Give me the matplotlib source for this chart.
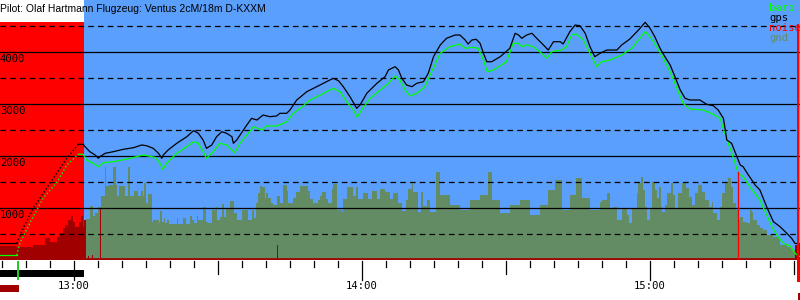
import numpy as np
import matplotlib
matplotlib.use("Agg")
import matplotlib.pyplot as plt
from matplotlib.patches import Rectangle

# --- data: minutes after 13:00, heights in m ---
gps_min = [-15.4, -11.9, -10.6, -8.5, -5.0, -1.5, 0.9, 1.9, 2.3, 3.3,
           4.4, 5.1, 5.4, 6.5, 8.2, 10.3, 12.4, 14.1, 15.1, 16.5,
           17.6, 18.3, 18.6, 19.6, 21.4, 23.5, 24.9, 25.9, 26.9, 27.6,
           28.7, 29.7, 30.8, 31.8, 32.9, 33.2, 33.9, 35.3, 36.0, 37.0,
           38.1, 39.4, 40.8, 42.2, 42.9, 44.3, 45.0, 46.4, 47.1, 48.5,
           49.9, 51.3, 52.6, 54.0, 55.1, 56.1, 57.5, 58.9, 59.6, 61.0,
           63.1, 64.8, 65.5, 66.9, 67.6, 68.3, 69.3, 70.4, 71.4, 72.8,
           73.8, 74.9, 76.3, 77.6, 79.4, 80.4, 81.5, 82.1, 82.9, 83.8,
           84.6, 85.3, 86.0, 87.0, 88.8, 90.8, 91.9, 92.6, 93.3, 94.3,
           95.4, 96.4, 97.8, 98.8, 99.9, 101.3, 101.9, 103.3, 104.4, 105.4,
           106.5, 107.5, 108.5, 109.6, 111.0, 113.1, 114.1, 115.8, 117.6, 119.0,
           120.0, 121.0, 122.1, 123.1, 124.2, 125.2, 126.3, 127.3, 128.3, 130.4,
           131.8, 133.2, 134.2, 135.3, 136.0, 137.0, 138.1, 138.8, 139.4, 140.5,
           141.9, 142.9, 144.3, 145.7, 147.1, 148.5, 149.5, 150.2, 151.25]
gps_alt = [321, 321, 610, 994, 1475, 1956, 2225, 2225, 2179, 2083,
           2019, 1956, 1987, 2052, 2083, 2129, 2160, 2212, 2198, 2148,
           2052, 1956, 2019, 2115, 2244, 2371, 2487, 2437, 2308, 2148,
           2212, 2371, 2467, 2437, 2371, 2244, 2308, 2500, 2596, 2725,
           2692, 2788, 2756, 2769, 2821, 2821, 2885, 3077, 3129, 3237,
           3302, 3365, 3429, 3494, 3448, 3333, 3140, 2917, 2981, 3206,
           3398, 3525, 3654, 3717, 3654, 3494, 3365, 3333, 3398, 3429,
           3590, 3910, 4135, 4263, 4327, 4327, 4231, 4154, 4231, 4244,
           4167, 3975, 3813, 3813, 3910, 4071, 4360, 4327, 4263, 4327,
           4360, 4263, 4135, 4038, 4198, 4198, 4154, 4390, 4519, 4506,
           4360, 4102, 3910, 3975, 4038, 4038, 4135, 4250, 4423, 4571,
           4456, 4294, 4071, 3910, 3750, 3525, 3269, 3110, 3077, 3077,
           2994, 2967, 2885, 2725, 2308, 2244, 1987, 1827, 1794, 1635,
           1442, 1346, 1025, 737, 640, 513, 417, 321, 308]

baro_min = [-15.4, -11.9, -11.3, -8.5, -7.5, -6.4, -3.5, -1.5, 0.9, 1.9,
            2.6, 4.0, 5.1, 6.1, 8.2, 11.7, 14.4, 15.5, 16.9, 17.9,
            18.5, 19.3, 21.4, 23.5, 24.9, 25.9, 26.9, 27.6, 29.0, 30.4,
            31.8, 32.9, 33.5, 34.6, 36.0, 37.4, 39.1, 40.1, 42.2, 43.3,
            44.3, 45.7, 47.1, 49.2, 51.3, 54.0, 55.4, 56.8, 58.2, 59.0,
            59.9, 61.7, 63.8, 65.5, 66.9, 67.9, 69.0, 70.0, 71.4, 73.1,
            74.5, 76.3, 78.3, 80.4, 81.5, 82.9, 84.2, 85.3, 86.1, 87.4,
            90.1, 91.5, 92.6, 93.3, 94.3, 95.7, 97.4, 98.5, 99.5, 101.6,
            102.6, 103.7, 104.7, 106.1, 107.5, 108.9, 109.9, 111.7, 114.1, 116.2,
            117.9, 119.0, 120.0, 121.4, 122.4, 123.5, 124.5, 125.9, 126.9, 128.3,
            131.1, 133.2, 134.6, 136.3, 137.4, 138.4, 139.4, 140.8, 142.9, 144.3,
            145.4, 146.4, 147.8, 149.2, 150.2, 151.25]
baro_alt = [96, 96, 321, 833, 1000, 1192, 1500, 1827, 2033, 2033,
            1923, 1860, 1794, 1871, 1890, 1956, 2019, 2000, 1975, 1860,
            1744, 1860, 2052, 2179, 2275, 2244, 2083, 1956, 2083, 2244,
            2212, 2115, 2063, 2244, 2404, 2563, 2500, 2577, 2577, 2615,
            2660, 2821, 2917, 3077, 3173, 3302, 3237, 3044, 2885, 2744,
            2885, 3110, 3269, 3398, 3538, 3462, 3269, 3154, 3206, 3333,
            3621, 3975, 4102, 4154, 4071, 4090, 4071, 3846, 3621, 3654,
            3813, 4167, 4167, 4102, 4135, 4102, 3975, 3879, 4006, 4038,
            4102, 4327, 4346, 4231, 3975, 3717, 3813, 3846, 3942, 4071,
            4263, 4390, 4294, 4102, 3942, 3750, 3558, 3237, 3013, 2904,
            2885, 2802, 2725, 2244, 1956, 1667, 1602, 1410, 1154, 865,
            640, 481, 321, 269, 129, 63]

gnd_min = [2.5, 3.3, 3.9, 4.4, 5.1, 5.6, 6.5, 6.7, 7.3, 8.2,
           8.7, 9.0, 9.4, 10.6, 11.3, 11.7, 12.4, 13.3, 14.0, 14.4,
           14.6, 15.1, 15.5, 16.2, 16.5, 17.7, 17.9, 18.3, 18.75, 19.0,
           19.4, 19.85, 21.4, 21.7, 22.8, 23.3, 24.2, 24.5, 25.0, 25.6,
           25.9, 26.9, 27.6, 28.0, 28.7, 29.6, 29.85, 30.4, 30.8, 31.25,
           31.7, 32.6, 33.3, 33.9, 34.9, 36.3, 37.0, 37.5, 37.9, 38.3,
           38.75, 39.1, 39.8, 40.1, 40.5, 41.0, 41.5, 42.2, 42.9, 43.5,
           44.3, 44.65, 45.7, 46.25, 47.1, 48.8, 49.2, 49.85, 50.9, 51.25,
           51.6, 52.6, 53.0, 53.7, 54.0, 54.85, 55.8, 56.1, 56.8, 57.5,
           58.2, 58.75, 59.2, 60.3, 61.3, 62.0, 63.1, 63.75, 64.8, 65.8,
           66.5, 67.6, 68.25, 69.2, 69.65, 70.35, 70.7, 71.7, 72.2, 72.8,
           73.5, 74.2, 75.4, 76.25, 78.3, 80.4, 82.5, 84.6, 86.25, 87.1,
           88.75, 90.8, 92.9, 95.0, 97.1, 98.75, 100.2, 101.7, 103.3, 104.6,
           105.8, 107.5, 109.6, 110.1, 111.0, 111.7, 112.2, 113.1, 114.1, 115.2,
           115.7, 116.2, 117.2, 117.6, 118.1, 118.5, 119.0, 119.3, 120.0, 120.35,
           121.0, 121.4, 121.9, 122.2, 122.6, 123.1, 123.5, 124.3, 124.7, 125.2,
           125.9, 126.6, 127.6, 128.2, 128.7, 129.4, 130.1, 130.8, 131.5, 132.2,
           132.9, 133.2, 133.9, 134.6, 135.1, 135.6, 136.3, 136.8, 137.35, 137.9,
           138.4, 138.75, 139.4, 140.15, 140.8, 141.2, 141.5, 142.2, 142.9, 143.6,
           144.3, 145.7, 147.1, 148.5, 149.5, 150.2]
gnd_alt = [782, 1038, 846, 897, 1026, 1231, 1782, 1423, 1442, 1782,
           1442, 1231, 1423, 1231, 1782, 1231, 1333, 1231, 1333, 1231,
           1487, 1090, 1269, 737, 769, 705, 942, 737, 801, 705,
           769, 692, 801, 692, 801, 692, 846, 769, 718, 846,
           769, 1026, 737, 705, 962, 1026, 769, 820, 1077, 833,
           974, 1141, 910, 769, 962, 769, 962, 801, 1090, 1282,
           1423, 1397, 1186, 1282, 1186, 1090, 1058, 1231, 1090, 1442,
           1333, 1090, 1186, 1314, 1423, 1333, 1167, 1103, 1154, 1231,
           1314, 1167, 1090, 1359, 1462, 962, 929, 1167, 1410, 1397,
           1231, 1397, 1167, 1282, 1167, 1333, 1167, 1359, 1314, 1167,
           1295, 1103, 948, 1154, 1359, 1487, 1314, 929, 1314, 1038,
           1154, 920, 1692, 1250, 1058, 962, 1154, 1250, 1692, 1154,
           904, 1058, 1154, 865, 1058, 1346, 1538, 962, 1250, 1577,
           1192, 962, 1122, 1154, 1282, 994, 1026, 769, 994, 865,
           705, 994, 1282, 1474, 1603, 1346, 1026, 769, 994, 1506,
           1346, 1186, 1410, 1026, 929, 1058, 1282, 1474, 1250, 994,
           1282, 1474, 1378, 1218, 1058, 1282, 1442, 1314, 1154, 1026,
           1122, 897, 769, 1026, 1282, 1474, 1571, 1410, 1090, 962,
           769, 833, 737, 705, 962, 929, 769, 673, 610, 577,
           481, 449, 288, 256, 192, 96]

noise_min = [-15.4, -12.1, -8.5, -6.0, -5.0, -3.5, -2.9, -2.3, -1.9, -1.25,
             -0.6, -0.2, 0.2, 1.0, 1.5, 1.9, 2.1, 2.5, 3.0, 3.2,
             3.7, 3.9, 5.5, 5.7, 13.6, 13.8, 42.2, 42.4, 135.0, 135.2,
             145.7, 145.9, 150.2]
noise_val = [269, 256, 288, 417, 352, 448, 525, 609, 673, 769,
             846, 737, 629, 737, 846, 629, 769, 20, 77, 20,
             96, 20, 1000, 20, 40, 20, 288, 20, 40, 20,
             40, 20, 290]

engine_end = 2.08      # motor off (minutes after 13:00)
takeoff = -11.9
marker_a = 138.33      # red markers
marker_b = 150.73
hour_labels = ["13:00", "14:00", "15:00"]
hour_pos = [0, 60, 120]
y_labels = [1000, 2000, 3000, 4000]

title = "Pilot: Olaf Hartmann Flugzeug: Ventus 2cM/18m D-KXXM"

t0, t1 = -15.417, 151.25
BLUE = "#5a9ffc"
RED = "#ff0000"
DARKRED = "#a00000"
GND = "#648c64"
GREEN = "#00ff00"

W, H = 800, 300
fig = plt.figure(figsize=(8, 3), dpi=100)
fig.patch.set_facecolor("white")
ax = fig.add_axes([0, 40 / H, 1, 260 / H])
ax.set_xlim(t0, t1)
ax.set_ylim(0, 5000)
for s in ax.spines.values():
    s.set_visible(False)
ax.set_xticks([])
ax.set_yticks([])
ax.set_facecolor("white")

def ypx(p):
    # pixel offset below axes bottom -> axes fraction
    return -p / 260.0

xtr = ax.get_xaxis_transform()

# backgrounds
ax.axvspan(engine_end, t1, color=BLUE, lw=0, zorder=0)
ax.fill_between([t0, engine_end], 0, 4577, color=RED, lw=0, zorder=0)

# ground
gx = np.append(gnd_min, t1)
gy = np.append(gnd_alt, gnd_alt[-1])
ax.fill_between(gx, 0, gy, step="post", color=GND, lw=0, zorder=1)

# noise
nx = np.append(noise_min, t1)
ny = np.append(noise_val, noise_val[-1])
ax.fill_between(nx, 0, ny, step="post", color=DARKRED, lw=0, zorder=2)
ax.axhline(10, color=DARKRED, lw=1.2, zorder=2)

# grid
for v in range(500, 5000, 500):
    if v % 1000 == 0:
        ax.axhline(v, color="black", lw=0.9, zorder=3)
    else:
        ax.axhline(v, color="black", lw=0.9, ls=(0, (4.5, 3.3)), zorder=3)

for v in y_labels:
    ax.annotate(str(v), (0, v), xycoords=("axes fraction", "data"),
                xytext=(0, -1.5), textcoords="offset points",
                ha="left", va="top", fontsize=7.6, family="DejaVu Sans Mono",
                color="black", zorder=6)

# traces: solid on ground / in flight, dotted during motor climb
def trace(tt, aa, climb_end, color):
    tt = np.array(tt)
    aa = np.array(aa)
    ax.plot(tt[:2], aa[:2], color=color, lw=0.9, zorder=5)
    ax.plot(tt[1:climb_end + 1], aa[1:climb_end + 1], color=color, lw=1.0,
            ls=(0, (1, 1.6)), zorder=5)
    ax.plot(tt[climb_end:], aa[climb_end:], color=color, lw=0.9, zorder=5)

trace(baro_min, baro_alt, 8, GREEN)
trace(gps_min, gps_alt, 6, "black")

# red markers
ax.plot([marker_a, marker_a], [0, 1692], color=RED, lw=1.0, zorder=5)
ax.plot([marker_b, marker_b], [4519, 0], color=RED, lw=1.4, zorder=5)
ax.plot([marker_b, marker_b], [0, ypx(20)], color=RED, lw=2.2, transform=xtr,
        clip_on=False, zorder=5)

# time ticks every 5 minutes
for m in range(-15, 151, 5):
    if m % 60 == 0:
        ln = 19
    elif m % 30 == 0:
        ln = 13
    else:
        ln = 6
    ax.plot([m, m], [ypx(1), ypx(1 + ln)], color="black", lw=0.9,
            transform=xtr, clip_on=False, zorder=4)

for lab, p in zip(hour_labels, hour_pos):
    ax.text(p, ypx(26), lab, transform=xtr, ha="center", va="center",
            fontsize=7.6, family="DejaVu Sans Mono", color="black")

# motor / takeoff bars below the axis
ax.add_patch(Rectangle((t0, ypx(17)), engine_end - t0, 7 / 260, transform=xtr,
                       color="black", lw=0, clip_on=False, zorder=4))
ax.add_patch(Rectangle((takeoff, ypx(20)), 0.45, 19 / 260, transform=xtr,
                       color="#22cc22", lw=0, clip_on=False, zorder=5))
ax.add_patch(Rectangle((t0, ypx(32)), takeoff + 0.4 - t0, 7 / 260, transform=xtr,
                       color=DARKRED, lw=0, clip_on=False, zorder=4))
ax.add_patch(Rectangle((marker_b + 0.1, ypx(40)), 0.45, 7 / 260, transform=xtr,
                       color=DARKRED, lw=0, clip_on=False, zorder=4))

# title and legend
fig.text(0.0, 1 - 8.5 / H, title, ha="left", va="center", fontsize=7.5,
         family="Liberation Sans", color="black")
for i, (lab, col) in enumerate([("baro", GREEN), ("gps", "black"),
                                ("noise", RED), ("gnd", GND)]):
    fig.text(769 / W, 1 - (8 + 10 * i) / H, lab, ha="left", va="center",
             fontsize=7.6, family="DejaVu Sans Mono", color=col)

fig.savefig("out.png", dpi=100)
